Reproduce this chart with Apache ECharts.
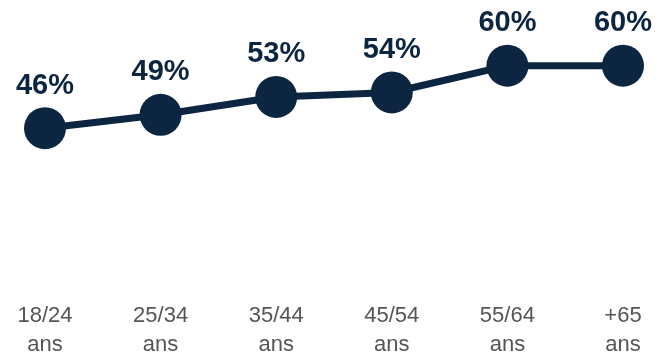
<!DOCTYPE html>
<html>
<head>
<meta charset="utf-8">
<script src="https://cdn.jsdelivr.net/npm/echarts@6/dist/echarts.min.js"></script>
<style>
  html, body { margin: 0; padding: 0; background: #ffffff; }
  #chart { width: 656px; height: 359px; }
</style>
</head>
<body>
<div id="chart"></div>
<script>
// Age groups and share per group (percent)
const categories = ['18/24\nans', '25/34\nans', '35/44\nans', '45/54\nans', '55/64\nans', '+65\nans'];
const values = [46, 49, 53, 54, 60, 60];

const navy = '#0c2641';
const grey = '#555555';
const fontFamily = '"Liberation Sans", Arial, Helvetica, sans-serif';

const chart = echarts.init(document.getElementById('chart'), null, { renderer: 'canvas' });
chart.setOption({
  animation: false,
  backgroundColor: '#ffffff',
  grid: { left: 45, right: 33, top: 21, bottom: 68 },
  xAxis: {
    type: 'category',
    data: categories,
    boundaryGap: false,
    axisLine: { show: false },
    axisTick: { show: false },
    splitLine: { show: false },
    axisLabel: {
      color: grey,
      fontFamily: fontFamily,
      fontSize: 22,
      lineHeight: 29,
      margin: 12
    }
  },
  yAxis: {
    type: 'value',
    min: 10,
    max: 70,
    show: false
  },
  series: [{
    type: 'line',
    data: values,
    symbol: 'circle',
    symbolSize: 42,
    lineStyle: { color: navy, width: 7 },
    itemStyle: { color: navy },
    label: {
      show: true,
      position: 'top',
      distance: 7,
      formatter: p => p.value + '%',
      color: navy,
      fontFamily: fontFamily,
      fontWeight: 'bold',
      fontSize: 29
    }
  }]
});
</script>
</body>
</html>
